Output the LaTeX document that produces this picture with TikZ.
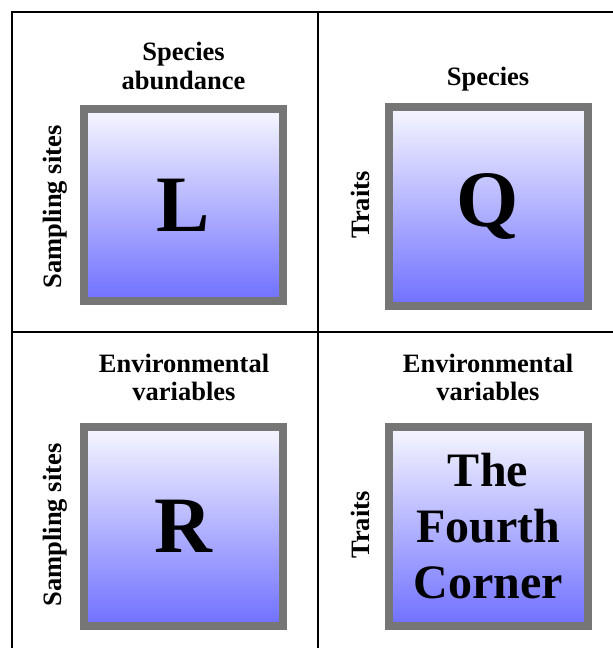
\documentclass[tikz,border=0pt]{standalone}
\usepackage{fontspec}
\setmainfont{Liberation Serif}
\definecolor{boxgray}{RGB}{118,118,118}
\definecolor{blueTop}{RGB}{247,247,255}
\definecolor{blueBot}{RGB}{112,112,255}
\begin{document}
\begin{tikzpicture}[x=1pt,y=-1pt,
  matrixbox/.style={draw=boxgray, line width=8pt, top color=blueTop,
    bottom color=blueBot, inner sep=0pt,
    font=\fontsize{80}{80}\selectfont\bfseries},
  axislabel/.style={font=\fontsize{26.5}{28.5}\selectfont\bfseries,
    align=center, inner sep=0pt},
  sidelabel/.style={axislabel, rotate=90},
  frame/.style={line width=2pt, black}]
\useasboundingbox (0,0) rectangle (613,648);

% grid of the four panels
\draw[frame] (12,648) -- (12,12) -- (613,12);
\draw[frame] (318,12) -- (318,648);
\draw[frame] (12,332) -- (613,332);

% matrices
\node[matrixbox, minimum width=199pt, minimum height=192pt] (L) at (183.5,205) {L};
\node[matrixbox, minimum width=199pt, minimum height=199pt] (Q) at (488,206) {Q};
\node[matrixbox, minimum width=199pt, minimum height=199pt] (R) at (183.5,526) {R};
\node[matrixbox, minimum width=199pt, minimum height=199pt,
  align=center, font=\fontsize{48}{56}\selectfont\bfseries] (F) at (488,526)
  {The\\Fourth\\Corner};

% column headings
\node[axislabel, anchor=south] (colL) at (183.5,90) {Species\\abundance};
\node[axislabel, anchor=base] (colQ) at (488,85) {Species};
\node[axislabel, anchor=south] (colR) at (184,401) {Environmental\\variables};
\node[axislabel, anchor=south] (colF) at (488,401) {Environmental\\variables};

% row headings
\node[sidelabel] (rowL) at (55,207) {Sampling sites};
\node[sidelabel] (rowQ) at (360.5,205) {Traits};
\node[sidelabel] (rowR) at (55,525) {Sampling sites};
\node[sidelabel] (rowF) at (360.5,525) {Traits};
\end{tikzpicture}
\end{document}
